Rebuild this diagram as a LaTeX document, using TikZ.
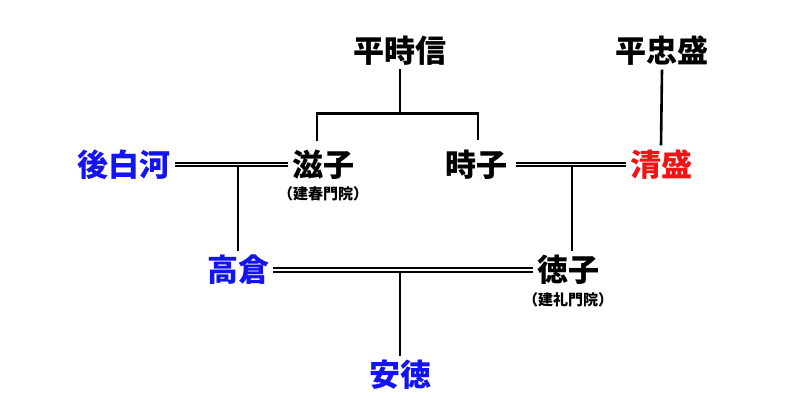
\documentclass[tikz,border=0pt]{standalone}
\usepackage{fontspec}
\newfontfamily\jpfont{Noto Sans CJK JP}
\usetikzlibrary{positioning}
\definecolor{tenno}{HTML}{1414F0}
\definecolor{heike}{HTML}{F01414}
\tikzset{
  person/.style={
    font=\jpfont\bfseries\fontsize{31}{31}\selectfont,
    inner sep=4pt
  },
  ingo/.style={
    font=\jpfont\bfseries\fontsize{15}{15}\selectfont,
    inner sep=0pt
  },
  kin/.style={line width=2.6pt},
  marriage/.style={
    draw=black, line width=2pt,
    double=white, double distance=1.5pt
  }
}

\begin{document}
\begin{tikzpicture}[x=1pt, y=-1pt]
  \useasboundingbox (0,0) rectangle (800,419);
  % parents
  \node[person] (tokinobu) at (400,50.5) {平時信};
  \node[person] (tadamori) at (662,50.5) {平忠盛};
  % second generation
  \node[person, text=tenno] (goshirakawa) at (124,164.5) {後白河};
  \node[person] (shigeko) at (323,164.5) {滋子};
  \node[ingo, below=3pt of shigeko] (kenshun) {（建春門院）};
  \node[person] (tokiko) at (476,164.5) {時子};
  \node[person, text=heike] (kiyomori) at (661,164.5) {清盛};
  % third generation
  \node[person, text=tenno] (takakura) at (238,270) {高倉};
  \node[person] (tokuko) at (568,270) {徳子};
  \node[ingo, below=3pt of tokuko] (kenrei) {（建礼門院）};
  \node[person, text=tenno] (antoku) at (400,375) {安徳};

  % descent
  \draw[kin] (tokinobu.south) -- ++(0,44) coordinate (bar);
  \draw[kin] ([xshift=-6pt, yshift=5pt]shigeko.north) |- (bar) -| ([xshift=2pt, yshift=5pt]tokiko.north);
  \draw[kin] (tadamori.south) -- (kiyomori.north);
  \draw[kin] (takakura.north |- goshirakawa.east) -- (takakura.north);
  \draw[kin] ([xshift=4pt]tokuko.north |- kiyomori.west) -- ([xshift=4pt]tokuko.north);
  \draw[kin] (antoku.north |- takakura.east) -- (antoku.north);
  % marriages
  \draw[marriage] (goshirakawa.east) -- (shigeko.west);
  \draw[marriage, shorten <=5pt] (tokiko.east) -- (kiyomori.west);
  \draw[marriage] (takakura.east) -- (tokuko.west);
\end{tikzpicture}
\end{document}
